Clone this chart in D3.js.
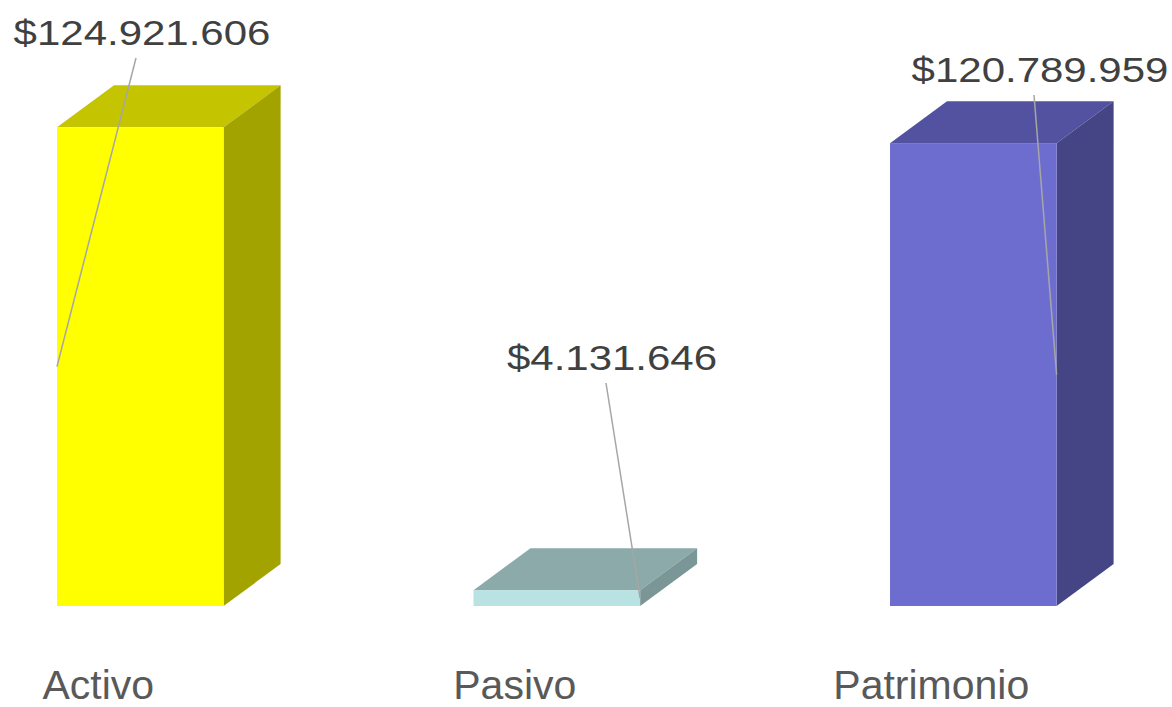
<!DOCTYPE html>
<html>
<head>
<meta charset="utf-8">
<script src="https://cdn.jsdelivr.net/npm/d3@7"></script>
<style>
  html, body { margin: 0; padding: 0; background: #ffffff; }
  svg { display: block; }
  text { font-family: "Liberation Sans", Arial, sans-serif; }
</style>
</head>
<body>
<svg id="chart" width="1172" height="707"></svg>
<script>
// ---- data ----
const categories = ["Activo", "Pasivo", "Patrimonio"];
const values = [124921606, 4131646, 120789959];
const valueLabels = ["$124.921.606", "$4.131.646", "$120.789.959"];
const frontColors = ["#FFFF00", "#B9E2E2", "#6D6DD0"];
const topColors = ["#C4C400", "#8CAAAA", "#5252A0"];
const sideColors = ["#A3A300", "#7B9696", "#454585"];

// ---- layout ----
const W = 1172, H = 707;
const baseY = 606, topY = 127;
const depthX = 57, depthY = 42;
// value label placement: [center x, baseline y, anchor side on bar (0 = left, 1 = right)]
const labelPos = [[142, 45, 0], [612, 370, 1], [1040, 82, 1]];
const labelTopGap = 13; // leader line starts below label baseline

const svg = d3.select("#chart");

const x = d3.scaleBand()
  .domain(categories)
  .range([57, 1056.6])
  .paddingInner(0.6)
  .paddingOuter(0);

const y = d3.scaleLinear()
  .domain([0, 125000000])
  .range([baseY, topY]);

const data = categories.map((c, i) => ({
  cat: c, value: values[i], label: valueLabels[i],
  front: frontColors[i], top: topColors[i], side: sideColors[i], pos: labelPos[i]
}));

const bw = x.bandwidth();
const g = svg.append("g");

const bars = g.selectAll("g.bar").data(data).enter().append("g").attr("class", "bar");

// top face
bars.append("path")
  .attr("d", d => {
    const x0 = x(d.cat), x1 = x0 + bw, yt = y(d.value);
    return `M${x0},${yt} L${x0 + depthX},${yt - depthY} L${x1 + depthX},${yt - depthY} L${x1},${yt} Z`;
  })
  .attr("fill", d => d.top);

// side face
bars.append("path")
  .attr("d", d => {
    const x1 = x(d.cat) + bw, yt = y(d.value);
    return `M${x1},${yt} L${x1 + depthX},${yt - depthY} L${x1 + depthX},${baseY - depthY} L${x1},${baseY} Z`;
  })
  .attr("fill", d => d.side);

// front face
bars.append("rect")
  .attr("x", d => x(d.cat))
  .attr("y", d => y(d.value))
  .attr("width", bw)
  .attr("height", d => baseY - y(d.value))
  .attr("fill", d => d.front);

// leader lines
bars.append("line")
  .attr("x1", d => d.pos[0] - 6)
  .attr("y1", d => d.pos[1] + labelTopGap)
  .attr("x2", d => x(d.cat) + (d.pos[2] ? bw : 0))
  .attr("y2", d => (y(d.value) + baseY) / 2)
  .attr("stroke", "#A6A6A6")
  .attr("stroke-width", 1.5);

// value labels (horizontally stretched)
bars.append("text")
  .attr("transform", d => `translate(${d.pos[0]},${d.pos[1]}) scale(1.2,1)`)
  .attr("text-anchor", "middle")
  .attr("font-size", 35)
  .attr("fill", "#404040")
  .text(d => d.label);

// category labels
g.selectAll("text.cat").data(data).enter().append("text")
  .attr("class", "cat")
  .attr("x", d => x(d.cat) + bw / 2 - 42)
  .attr("y", 699)
  .attr("text-anchor", "middle")
  .attr("font-size", 41)
  .attr("fill", "#595959")
  .text(d => d.cat);
</script>
</body>
</html>
